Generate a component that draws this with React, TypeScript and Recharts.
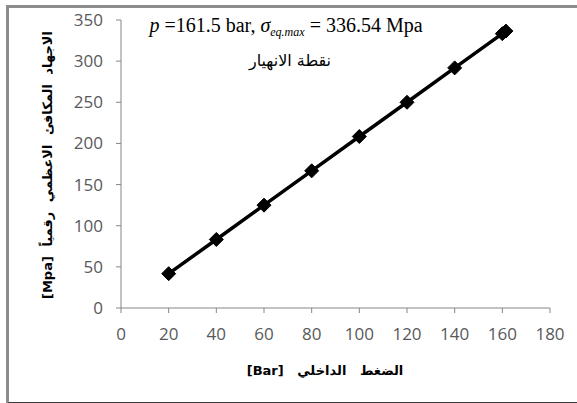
import React from "react";
import { LineChart, Line, XAxis, YAxis, Customized } from "recharts";

const pressure = [20, 40, 60, 80, 100, 120, 140, 160, 161.5];
const stress = [41.7, 83.3, 125.0, 166.7, 208.4, 250.0, 291.8, 333.4, 336.54];
const xTicks = [0, 20, 40, 60, 80, 100, 120, 140, 160, 180];
const yTicks = [0, 50, 100, 150, 200, 250, 300, 350];

const data = pressure.map((p, i) => ({ p, s: stress[i] }));

const tickStyle = { fontFamily: "'Open Sans', sans-serif", fontSize: 17, fill: "#595959" };

const Diamond = (props: any) => {
  const { cx, cy } = props;
  if (cx == null || cy == null) return null;
  const r = 7;
  return (
    <polygon
      key={`d-${cx}-${cy}`}
      points={`${cx},${cy - r} ${cx + r},${cy} ${cx},${cy + r} ${cx - r},${cy}`}
      fill="#000"
      stroke="#000"
      strokeWidth={1}
    />
  );
};

const Titles = () => (
  <g>
    <text x={286} y={32} textAnchor="middle" fontFamily="'Liberation Serif', serif" fontSize={20} fill="#000">
      <tspan fontStyle="italic">p</tspan>
      <tspan> =161.5 bar, </tspan>
      <tspan fontStyle="italic">σ</tspan>
      <tspan fontSize={12} dy={4} fontStyle="italic">eq.max</tspan>
      <tspan dy={-4}> = 336.54 Mpa</tspan>
    </text>
    <text x={290} y={66} textAnchor="middle" fontFamily="'DejaVu Sans', sans-serif" fontSize={16} fill="#000">
      نقطة الانهيار
    </text>
    <text
      x={325}
      y={375}
      textAnchor="middle"
      fontFamily="'DejaVu Sans', sans-serif"
      fontWeight="bold"
      fontSize={13}
      wordSpacing={9}
      fill="#000"
    >
      [Bar]  الضغط الداخلي
    </text>
    <text
      x={52}
      y={165}
      textAnchor="middle"
      transform="rotate(-90 52 165)"
      fontFamily="'DejaVu Sans', sans-serif"
      fontWeight="bold"
      fontSize={13}
      wordSpacing={5}
      fill="#000"
    >
      [Mpa]  الاجهاد المكافئ الاعظمي رقمياً
    </text>
  </g>
);

export default function App() {
  return (
    <div style={{ position: "absolute", left: 0, top: 0, width: 577, height: 403, background: "#fff", overflow: "hidden" }}>
      <div
        style={{
          position: "absolute",
          left: 6,
          top: 5,
          width: 590,
          height: 394,
          borderLeft: "3px solid #8c8c8c",
          borderTop: "3px solid #8c8c8c",
          borderBottom: "2px solid #3a3a3a",
        }}
      />
      <div style={{ position: "absolute", left: 0, top: 0 }}>
        <LineChart width={577} height={403} data={data} margin={{ top: 20, right: 27, bottom: 0, left: 0 }}>
          <XAxis
            dataKey="p"
            type="number"
            domain={[0, 180]}
            ticks={xTicks}
            axisLine={{ stroke: "#868686" }}
            tickLine={{ stroke: "#868686" }}
            tickSize={5}
            tickMargin={15}
            tick={tickStyle}
            height={95}
            interval={0}
          />
          <YAxis
            dataKey="s"
            type="number"
            domain={[0, 350]}
            ticks={yTicks}
            axisLine={{ stroke: "#868686" }}
            tickLine={{ stroke: "#868686" }}
            tickSize={5}
            tickMargin={13}
            tick={tickStyle}
            width={121}
            interval={0}
          />
          <Line
            type="linear"
            dataKey="s"
            stroke="#000"
            strokeWidth={3.5}
            dot={<Diamond />}
            activeDot={false}
            isAnimationActive={false}
          />
          <Customized component={Titles} />
        </LineChart>
      </div>
    </div>
  );
}
